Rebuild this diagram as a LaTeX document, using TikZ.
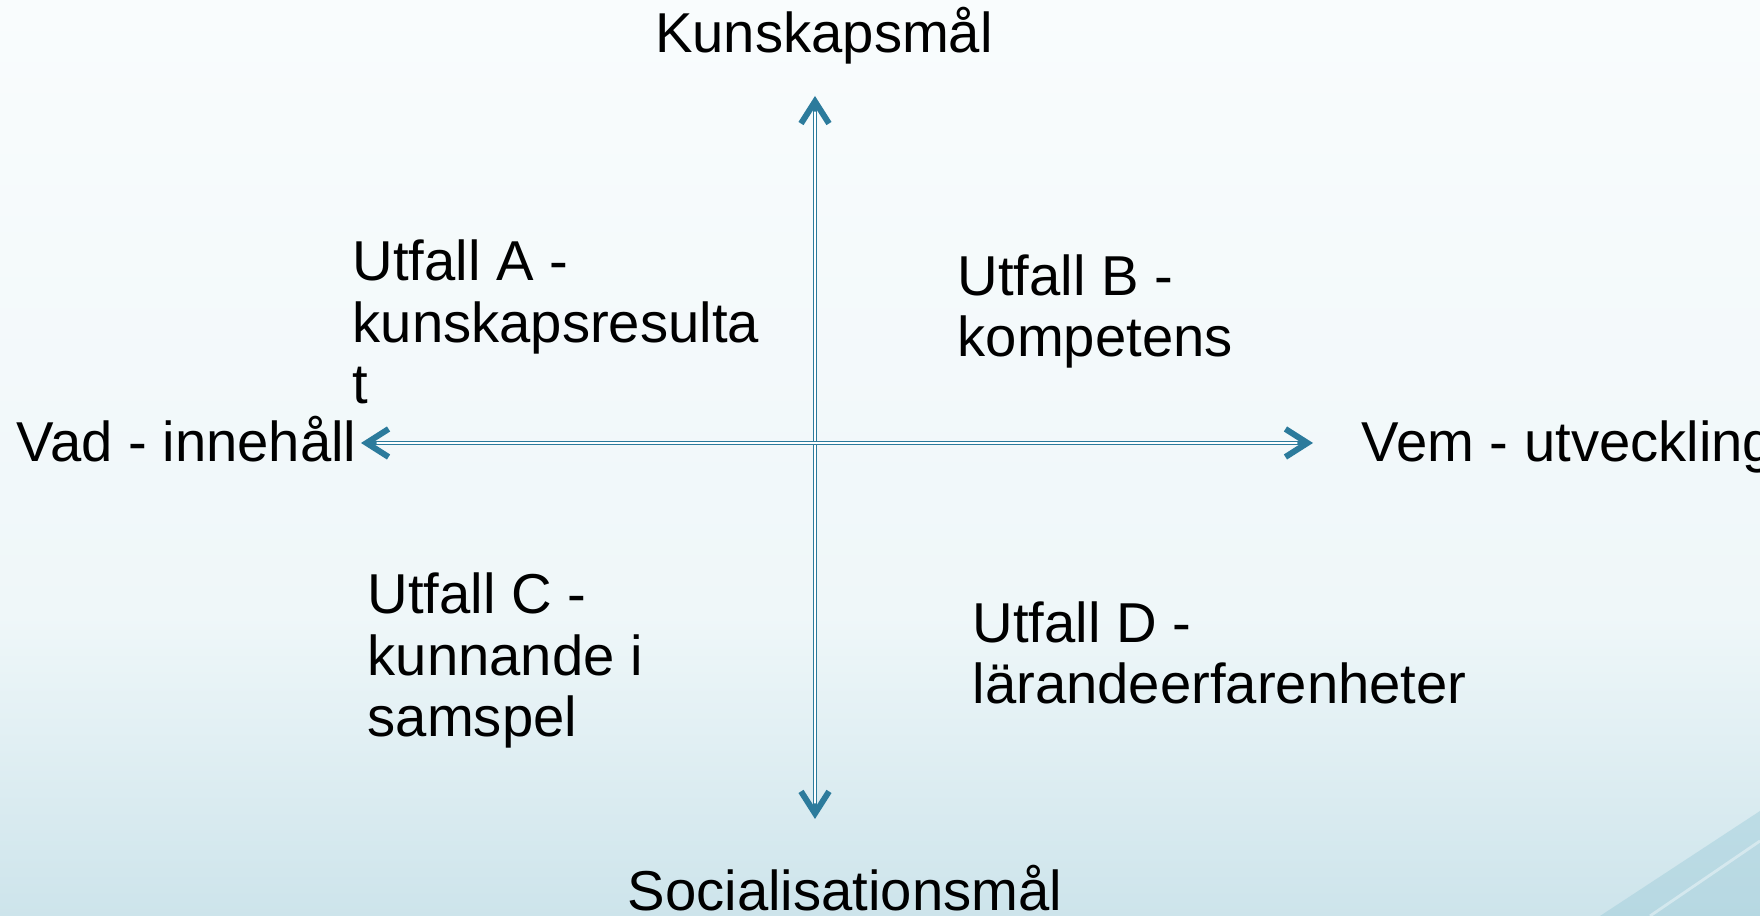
\documentclass[tikz,border=0pt]{standalone}
\usepackage{fontspec}
\setmainfont{Liberation Sans}
\usetikzlibrary{arrows.meta, positioning}
\definecolor{axisblue}{HTML}{2C7B9C}
\definecolor{bgtop}{HTML}{F9FCFD}
\definecolor{bgmid}{HTML}{EFF7F9}
\definecolor{bgbot}{HTML}{CDE4EB}
\definecolor{swoosh}{HTML}{9CCBD9}
\tikzset{
  lbl/.style={inner sep=0pt,align=left,text=black,
    font=\fontsize{16}{17.6}\selectfont},
  barb/.tip={Straight Barb[length=2.2mm,width=2.8mm,line width=1.7pt]},
  axis/.style={barb-barb,draw=axisblue,line width=1.4pt,line cap=round,
    postaction={draw=white,line width=0.35pt,-,shorten <=1.6mm,shorten >=1.6mm}},
}
\begin{document}
\begin{tikzpicture}
    \useasboundingbox (0,0) rectangle (17.6,9.16);
    \fill[top color=bgtop,bottom color=bgmid] (0,3.0) rectangle (17.6,9.16);
    \fill[top color=bgmid,bottom color=bgbot] (0,0) rectangle (17.6,3.0);
    \fill[swoosh,opacity=0.45] (16.0,0) -- (17.6,1.05) -- (17.6,0) -- cycle;
    \draw[white,opacity=0.4,line width=0.8pt] (16.5,0) -- (17.6,0.75);

    \coordinate (top) at (8.15,8.20);
    \coordinate (bot) at (8.15,0.97);
    \coordinate (lft) at (3.61,4.73);
    \coordinate (rgt) at (13.13,4.73);
    \draw[axis] (bot) -- (top);
    \draw[axis] (lft) -- (rgt);

    \node[lbl,anchor=base] (kun) at (8.24,8.63) {Kunskapsmål};
    \node[lbl,anchor=base] (soc) at (8.45,0.05) {Socialisationsmål};
    \node[lbl,anchor=base west] (vad) at (0.16,4.54) {Vad - innehåll};
    \node[lbl,anchor=base west] (vem) at (13.61,4.54) {Vem - utveckling};
    \node[lbl,anchor=base west] (ua) at (3.52,5.12)
      {Utfall A -\\kunskapsresulta\\t};
    \node[lbl,anchor=base west] (ub) at (9.57,5.59)
      {Utfall B -\\kompetens};
    \node[lbl,anchor=base west] (uc) at (3.67,1.79)
      {Utfall C -\\kunnande i\\samspel};
    \node[lbl,anchor=base west] (ud) at (9.72,2.12)
      {Utfall D -\\lärandeerfarenheter};
  \end{tikzpicture}
\end{document}
